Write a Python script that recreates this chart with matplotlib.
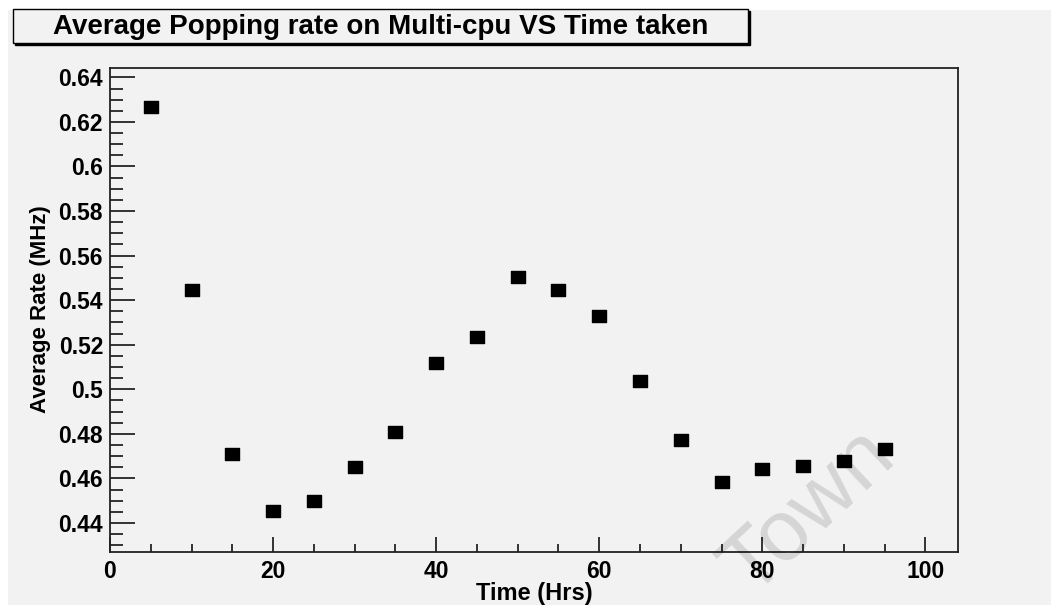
import numpy as np
import matplotlib
matplotlib.use("Agg")
import matplotlib.pyplot as plt
from matplotlib.patches import Rectangle
from matplotlib.path import Path
from matplotlib.ticker import MultipleLocator, FormatStrFormatter

# data
hours = [5, 10, 15, 20, 25, 30, 35, 40, 45, 50, 55, 60, 65, 70, 75, 80, 85, 90, 95]
avg_rate = [0.6267, 0.5445, 0.4708, 0.4454, 0.4499, 0.4651, 0.4810, 0.5117, 0.5234,
            0.5503, 0.5445, 0.5329, 0.5037, 0.4774, 0.4584, 0.4643, 0.4658, 0.4678, 0.4731]

title = "Average Popping rate on Multi-cpu VS Time taken"
x_label = "Time (Hrs)"
y_label = "Average Rate (MHz)"

W, H = 1051, 605
bg = "#f2f2f2"
plt.rcParams["font.family"] = ["Liberation Sans", "DejaVu Sans"]

fig = plt.figure(figsize=(W / 100, H / 100), dpi=100, facecolor="white")

# grey canvas like the ROOT pad
fig.patches.append(Rectangle((8 / W, 0), 1 - 8 / W, 1 - 10 / H, transform=fig.transFigure,
                             facecolor=bg, edgecolor="none", zorder=0))

# title box with its little shadow
bx0, by0, bx1, by1 = 13, 9, 748, 43
fig.patches.append(Rectangle(((bx0 + 2) / W, 1 - (by1 + 2) / H), (bx1 - bx0) / W, (by1 - by0) / H,
                             transform=fig.transFigure, facecolor="black", edgecolor="black",
                             lw=1, zorder=1))
fig.patches.append(Rectangle((bx0 / W, 1 - by1 / H), (bx1 - bx0) / W, (by1 - by0) / H,
                             transform=fig.transFigure, facecolor=bg, edgecolor="black",
                             lw=1, zorder=2))
fig.text((bx0 + bx1) / 2 / W, 1 - 27 / H, title, ha="center", va="center",
         fontsize=20, fontweight="bold", zorder=3)

left, right, top, bottom = 110, 958, 68, 552
ax = fig.add_axes([left / W, 1 - bottom / H, (right - left) / W, (bottom - top) / H])
ax.set_facecolor(bg)
ax.set_zorder(1)

# watermark, semi transparent so the frame shows through
fig.text(750 / W, 1 - 597 / H, "Town", rotation=43, rotation_mode="anchor",
         ha="left", va="baseline", fontsize=62, color="black", alpha=0.12, zorder=5)

# slightly wide square markers, like the stretched original
rect = Path([(-1.2, -1), (1.2, -1), (1.2, 1), (-1.2, 1), (-1.2, -1)],
            [Path.MOVETO, Path.LINETO, Path.LINETO, Path.LINETO, Path.CLOSEPOLY])
ax.plot(hours, avg_rate, linestyle="none", marker=rect, markersize=10.5,
        color="black", zorder=3)

ax.set_xlim(0, 104)
ax.set_ylim(0.4270, 0.6442)

ax.xaxis.set_major_locator(MultipleLocator(20))
ax.xaxis.set_minor_locator(MultipleLocator(5))
ax.yaxis.set_major_locator(MultipleLocator(0.02))
ax.yaxis.set_minor_locator(MultipleLocator(0.005))
ax.yaxis.set_major_formatter(FormatStrFormatter("%g"))

ax.tick_params(axis="y", which="major", direction="in", length=18, width=1.1,
               pad=5, labelsize=16.5)
ax.tick_params(axis="y", which="minor", direction="in", length=9.5, width=1.1)
ax.tick_params(axis="x", which="major", direction="in", length=11, width=1.1,
               pad=6, labelsize=16.5)
ax.tick_params(axis="x", which="minor", direction="in", length=5.5, width=1.1)
for lab in ax.get_xticklabels() + ax.get_yticklabels():
    lab.set_fontweight("bold")

for sp in ax.spines.values():
    sp.set_linewidth(1.3)
    sp.set_color("#222222")

ax.set_xlabel(x_label, fontsize=17, fontweight="bold")
ax.xaxis.set_label_coords(0.5, -0.062)
ax.set_ylabel(y_label, fontsize=16, fontweight="bold")
ax.yaxis.set_label_coords(-0.069, 0.502)

fig.savefig("out.png", dpi=100, facecolor=fig.get_facecolor())
